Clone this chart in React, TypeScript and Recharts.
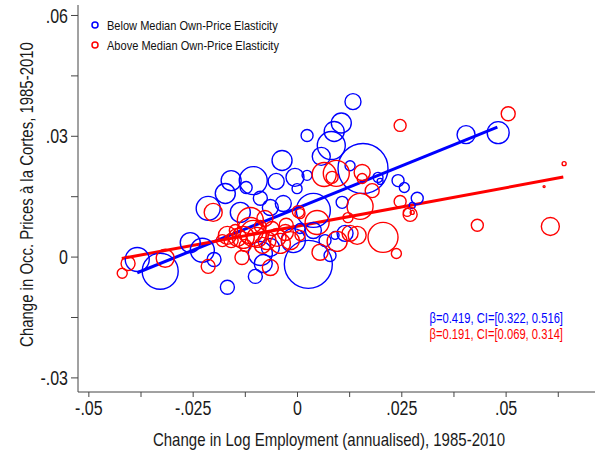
import React from 'react';
import { ScatterChart, Scatter, XAxis, YAxis, ReferenceLine, Legend } from 'recharts';

// Below median own-price elasticity (blue)
const blueX = [0.0133, 0.0105, 0.0088, 0.0023, 0.0081, 0.0057, 0.0157, 0.0126, -0.0037, -0.0006, 0.0023, 0.0241, 0.0198, 0.0193, 0.0404, 0.0481, 0.0256, 0.0287, 0.0275, -0.0106, -0.0051, -0.0001, -0.0089, -0.0159, -0.0173, -0.0123, -0.0214, -0.0137, 0.0038, 0.0107, -0.0257, -0.0228, -0.0200, -0.0384, -0.0329, -0.0168, -0.0101, -0.0082, 0.0026, 0.0078, -0.0065, -0.0034, -0.0089, -0.0010, 0.0038, 0.0006, 0.0066, 0.0090, 0.0114, -0.0065];
const blueY = [0.0386, 0.0333, 0.0312, 0.0302, 0.0277, 0.0250, 0.0220, 0.0227, 0.0240, 0.0198, 0.0203, 0.0190, 0.0188, 0.0198, 0.0304, 0.0309, 0.0173, 0.0146, 0.0128, 0.0190, 0.0188, 0.0170, 0.0146, 0.0190, 0.0158, 0.0173, 0.0121, 0.0111, 0.0116, 0.0136, 0.0036, 0.0017, -0.0006, -0.0006, -0.0035, -0.0075, -0.0048, -0.0016, -0.0018, 0.0004, 0.0123, 0.0133, 0.0009, 0.0041, 0.0066, 0.0071, 0.0041, 0.0054, 0.0059, 0.0024];
const blueW = [64, 100, 100, 36, 196, 81, 625, 25, 100, 81, 25, 36, 9, 25, 81, 121, 25, 36, 9, 196, 64, 25, 49, 100, 100, 36, 144, 100, 289, 36, 100, 144, 49, 144, 324, 49, 49, 81, 576, 36, 64, 64, 144, 144, 64, 25, 36, 16, 64, 81];

// Above median own-price elasticity (red)
const redX = [0.0246, 0.0505, 0.0639, 0.0591, 0.0431, 0.0606, 0.0064, 0.0093, 0.0083, 0.0155, 0.0155, 0.0179, 0.0150, 0.0121, 0.0047, 0.0002, -0.0027, 0.0143, 0.0205, 0.0237, 0.0095, 0.0054, 0.0246, 0.0270, 0.0263, 0.0275, -0.0202, -0.0420, -0.0406, -0.0317, -0.0214, -0.0133, -0.0065, -0.0168, -0.0144, -0.0113, -0.0097, -0.0073, -0.0049, -0.0017, -0.0113, -0.0078, -0.0130, -0.0106, -0.0159, -0.0084, -0.0041, -0.0149, -0.0125, -0.0061, 0.0006, 0.0006, 0.0126, -0.0180, -0.0029, -0.0089];
const redY = [0.0327, 0.0356, 0.0232, 0.0175, 0.0079, 0.0076, 0.0205, 0.0208, 0.0198, 0.0210, 0.0195, 0.0165, 0.0126, 0.0098, 0.0086, 0.0113, 0.0079, 0.0054, 0.0049, 0.0009, 0.0039, 0.0012, 0.0138, 0.0106, 0.0111, 0.0111, 0.0111, -0.0040, -0.0016, -0.0003, -0.0023, -0.0001, -0.0026, 0.0054, 0.0049, 0.0066, 0.0049, 0.0041, 0.0049, 0.0041, 0.0091, 0.0096, 0.0049, 0.0059, 0.0041, 0.0029, 0.0034, 0.0066, 0.0029, 0.0071, 0.0108, 0.0054, 0.0059, 0.0041, 0.0061, 0.0076];
const redW = [36, 49, 4, 1, 36, 81, 144, 169, 36, 64, 25, 49, 169, 25, 144, 36, 49, 81, 225, 25, 100, 64, 36, 49, 16, 4, 81, 25, 49, 81, 49, 49, 64, 81, 81, 169, 100, 81, 81, 81, 169, 64, 121, 169, 49, 64, 100, 36, 36, 49, 25, 25, 64, 36, 64, 36];

// Fitted lines
const blueBeta = 0.419;
const blueIntercept = 0.0122;
const blueRange = [-0.0384, 0.0479];
const redBeta = 0.191;
const redIntercept = 0.0077;
const redRange = [-0.0421, 0.0637];

const seriesNames = ['Below Median Own-Price Elasticity', 'Above Median Own-Price Elasticity'];
const seriesColors = ['#0000ff', '#ff0000'];
const ciLabels = ['\u03B2=0.419, CI=[0.322, 0.516]', '\u03B2=0.191, CI=[0.069, 0.314]'];

const xTicks = [-0.05, -0.0375, -0.025, -0.0125, 0, 0.0125, 0.025, 0.0375, 0.05, 0.0625];
const xMajor = [-0.05, -0.025, 0, 0.025, 0.05];
const xMajorLabels = ['-.05', '-.025', '0', '.025', '.05'];
const yTicks = [-0.03, -0.015, 0, 0.015, 0.03, 0.045, 0.06];
const yMajor = [-0.03, 0, 0.03, 0.06];
const yMajorLabels = ['-.03', '0', '.03', '.06'];

const xTitle = 'Change in Log Employment (annualised), 1985-2010';
const yTitle = 'Change in Occ. Prices \u00E0 la Cortes, 1985-2010';

const FONT = "'Liberation Sans', Arial, sans-serif";
const AXIS = '#444';
const TXT = '#1a1a1a';

let measureCtx: CanvasRenderingContext2D | null = null;
const narrowLen = (text: string, size: number, factor: number) => {
  if (!measureCtx && typeof document !== 'undefined') {
    measureCtx = document.createElement('canvas').getContext('2d');
  }
  if (!measureCtx) return text.length * size * 0.45 * factor;
  measureCtx.font = `${size}px 'Liberation Sans'`;
  return measureCtx.measureText(text).width * factor;
};

const NText = (props: any) => {
  const { children, size, narrow = 0.8, ...rest } = props;
  const s = String(children);
  if (!s) return null;
  return (
    <text {...rest} fontFamily={FONT} fontSize={size} textLength={narrowLen(s, size, narrow)} lengthAdjust="spacingAndGlyphs">
      {s}
    </text>
  );
};

const toPoints = (xs: number[], ys: number[], ws: number[]) => xs.map((x, i) => ({ x, y: ys[i], w: ws[i] }));
const bluePts = toPoints(blueX, blueY, blueW);
const redPts = toPoints(redX, redY, redW);

const circleShape = (color: string) => (props: any) => {
  const { cx, cy, payload } = props;
  if (cx == null || cy == null) return <g />;
  return <circle cx={cx} cy={cy} r={Math.sqrt(payload.w)} fill="none" stroke={color} strokeWidth={1.4} />;
};

const findLabel = (v: number, majors: number[], labels: string[]) => {
  const i = majors.findIndex((m) => Math.abs(m - v) < 1e-9);
  return i >= 0 ? labels[i] : '';
};

const XTick = (props: any) => {
  const { x, y, payload } = props;
  const label = findLabel(payload.value, xMajor, xMajorLabels);
  return (
    <NText x={x} y={y} dy="0.75em" textAnchor="middle" size={20} fill={TXT}>
      {label}
    </NText>
  );
};

const YTick = (props: any) => {
  const { x, y, payload } = props;
  const label = findLabel(payload.value, yMajor, yMajorLabels);
  return (
    <NText x={x} y={y} dy="0.36em" textAnchor="end" size={20} fill={TXT}>
      {label}
    </NText>
  );
};

const LegendContent = () => (
  <svg width={260} height={42}>
    {seriesNames.map((n, i) => (
      <g key={n}>
        <circle cx={7} cy={10 + i * 20} r={3} fill="none" stroke={seriesColors[i]} strokeWidth={1.5} />
        <NText x={19} y={10 + i * 20} dy="0.36em" size={13} narrow={0.85} fill="#111">
          {n}
        </NText>
      </g>
    ))}
  </svg>
);

export default function App() {
  return (
    <div style={{ position: 'absolute', left: 0, top: 0, width: 595, height: 462, background: '#fff' }}>
      <ScatterChart width={595} height={462} margin={{ top: 5, right: 0, bottom: 0, left: 0 }}>
        <XAxis
          type="number"
          dataKey="x"
          domain={[-0.0526, 0.0713]}
          ticks={xTicks}
          interval={0}
          height={70}
          tickSize={5}
          tickMargin={3}
          stroke={AXIS}
          tick={<XTick />}
          allowDataOverflow
          label={{
            content: (p: any) => {
              const vb = p.viewBox;
              return (
                <NText x={329} y={vb.y + 54} textAnchor="middle" size={19} narrow={0.79} fill={TXT}>
                  {xTitle}
                </NText>
              );
            },
          }}
        />
        <YAxis
          type="number"
          dataKey="y"
          domain={[-0.0335, 0.0626]}
          ticks={yTicks}
          interval={0}
          width={78}
          tickSize={7}
          tickMargin={3}
          stroke={AXIS}
          tick={<YTick />}
          allowDataOverflow
          label={{
            content: (p: any) => {
              const vb = p.viewBox;
              const cx = 27;
              const cy = vb.y + vb.height / 2 - 4;
              return (
                <NText x={cx} y={cy} transform={`rotate(-90 ${cx} ${cy})`} textAnchor="middle" dy="0.36em" size={18} narrow={0.83} fill={TXT}>
                  {yTitle}
                </NText>
              );
            },
          }}
        />
        <Legend
          layout="vertical"
          align="center"
          verticalAlign="middle"
          wrapperStyle={{ left: 88, top: 15, width: 260 }}
          content={<LegendContent />}
        />
        <Scatter name={seriesNames[0]} data={bluePts} shape={circleShape(seriesColors[0])} isAnimationActive={false} />
        <Scatter name={seriesNames[1]} data={redPts} shape={circleShape(seriesColors[1])} isAnimationActive={false} />
        <ReferenceLine
          segment={[
            { x: blueRange[0], y: blueIntercept + blueBeta * blueRange[0] },
            { x: blueRange[1], y: blueIntercept + blueBeta * blueRange[1] },
          ]}
          stroke={seriesColors[0]}
          strokeWidth={3}
          ifOverflow="visible"
        />
        <ReferenceLine
          segment={[
            { x: redRange[0], y: redIntercept + redBeta * redRange[0] },
            { x: redRange[1], y: redIntercept + redBeta * redRange[1] },
          ]}
          stroke={seriesColors[1]}
          strokeWidth={3}
          ifOverflow="visible"
        />
      </ScatterChart>
      <svg style={{ position: 'absolute', left: 0, top: 0 }} width={595} height={462} pointerEvents="none">
        {ciLabels.map((t, i) => (
          <NText key={t} x={563} y={318 + i * 16} dy="0.36em" textAnchor="end" size={14} fill={seriesColors[i]}>
            {t}
          </NText>
        ))}
      </svg>
    </div>
  );
}
